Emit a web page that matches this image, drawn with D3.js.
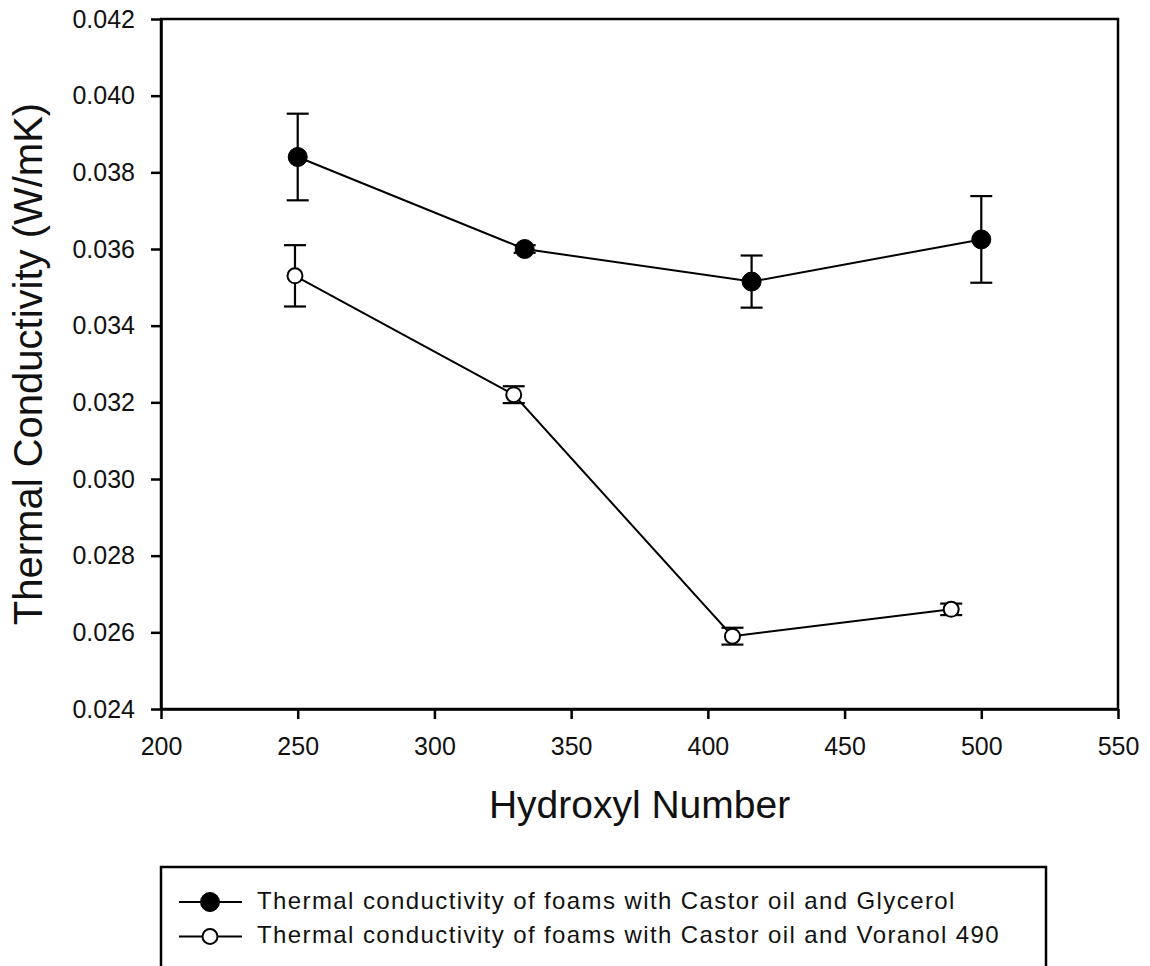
<!DOCTYPE html>
<html>
<head>
<meta charset="utf-8">
<script src="https://cdn.jsdelivr.net/npm/d3@7"></script>
<style>
  body { margin: 0; background: #fff; }
  svg { display: block; font-family: Arial, "Liberation Sans", sans-serif; }
</style>
</head>
<body>
<svg id="chart" width="1150" height="966"></svg>
<script>
// Hydroxyl number vs. thermal conductivity for two polyol blends
const glycerolX = [250, 333, 416, 500];
const glycerolY = [0.0384, 0.0360, 0.03515, 0.03625];
const glycerolErr = [0.00113, 0.0001, 0.00068, 0.00113];

const voranolX = [249, 329, 409, 489];
const voranolY = [0.0353, 0.0322, 0.0259, 0.0266];
const voranolErr = [0.0008, 0.00022, 0.00022, 0.00015];

const xTicks = [200, 250, 300, 350, 400, 450, 500, 550];
const yTicks = [0.024, 0.026, 0.028, 0.030, 0.032, 0.034, 0.036, 0.038, 0.040, 0.042];

const seriesNames = [
  "Thermal conductivity of foams with Castor oil and Glycerol",
  "Thermal conductivity of foams with Castor oil and Voranol 490"
];

const svg = d3.select("#chart");
const plotL = 161, plotR = 1118, plotT = 19, plotB = 709;

const x = d3.scaleLinear().domain([200, 550]).range([plotL, plotR]);
const y = d3.scaleLinear().domain([0.024, 0.042]).range([plotB, plotT]);

// frame
svg.append("rect")
  .attr("x", plotL).attr("y", plotT)
  .attr("width", plotR - plotL).attr("height", plotB - plotT)
  .attr("fill", "none").attr("stroke", "#000").attr("stroke-width", 2.5);

// axes
const xAxis = svg.append("g")
  .attr("transform", `translate(0,${plotB})`)
  .call(d3.axisBottom(x).tickValues(xTicks).tickSize(10).tickSizeOuter(0).tickPadding(18).tickFormat(d3.format("d")));
const yAxis = svg.append("g")
  .attr("transform", `translate(${plotL},0)`)
  .call(d3.axisLeft(y).tickValues(yTicks).tickSize(10).tickSizeOuter(0).tickPadding(16).tickFormat(d3.format(".3f")));

[xAxis, yAxis].forEach(g => {
  g.select(".domain").attr("stroke", "#000").attr("stroke-width", 2.5);
  g.selectAll(".tick line").attr("stroke", "#000").attr("stroke-width", 2.5);
  g.selectAll(".tick text").attr("fill", "#111").style("font-size", "25px")
    .style("font-family", "Arial, 'Liberation Sans', sans-serif");
});

// axis titles
svg.append("text")
  .attr("x", (plotL + plotR) / 2).attr("y", 818)
  .attr("text-anchor", "middle")
  .style("font-size", "39px").attr("fill", "#111")
  .text("Hydroxyl Number");

svg.append("text")
  .attr("transform", `translate(42,${(plotT + plotB) / 2}) rotate(-90)`)
  .attr("text-anchor", "middle")
  .style("font-size", "40px").attr("fill", "#111")
  .text("Thermal Conductivity (W/mK)");

const line = d3.line().x(d => x(d[0])).y(d => y(d[1]));

function drawSeries(xs, ys, errs, filled) {
  const pts = xs.map((v, i) => [v, ys[i], errs[i]]);
  const g = svg.append("g");
  g.append("path").datum(pts)
    .attr("d", line).attr("fill", "none")
    .attr("stroke", "#000").attr("stroke-width", 2);
  // error bars
  pts.forEach(p => {
    const cx = x(p[0]);
    const y1 = y(p[1] + p[2]), y2 = y(p[1] - p[2]);
    g.append("line").attr("x1", cx).attr("x2", cx).attr("y1", y1).attr("y2", y2)
      .attr("stroke", "#000").attr("stroke-width", 2.2);
    [y1, y2].forEach(yy => g.append("line")
      .attr("x1", cx - 11).attr("x2", cx + 11).attr("y1", yy).attr("y2", yy)
      .attr("stroke", "#000").attr("stroke-width", 2.2));
  });
  g.selectAll("circle").data(pts).join("circle")
    .attr("cx", d => x(d[0])).attr("cy", d => y(d[1]))
    .attr("r", filled ? 9.5 : 7.5)
    .attr("fill", filled ? "#000" : "#fff")
    .attr("stroke", "#000").attr("stroke-width", filled ? 1 : 2);
}

drawSeries(glycerolX, glycerolY, glycerolErr, true);
drawSeries(voranolX, voranolY, voranolErr, false);

// legend
const lg = svg.append("g");
lg.append("rect")
  .attr("x", 161).attr("y", 867).attr("width", 885).attr("height", 120)
  .attr("fill", "none").attr("stroke", "#000").attr("stroke-width", 2.5);

seriesNames.forEach((name, i) => {
  const cy = 902 + i * 34.5;
  lg.append("line").attr("x1", 179).attr("x2", 242).attr("y1", cy).attr("y2", cy)
    .attr("stroke", "#000").attr("stroke-width", 2.2);
  lg.append("circle").attr("cx", 210).attr("cy", cy)
    .attr("r", i === 0 ? 9.5 : 7.5)
    .attr("fill", i === 0 ? "#000" : "#fff")
    .attr("stroke", "#000").attr("stroke-width", i === 0 ? 1 : 2);
  lg.append("text").attr("x", 257).attr("y", cy + 6.5)
    .style("font-size", "24px").attr("fill", "#111")
    .style("letter-spacing", "1.4px")
    .text(name);
});
</script>
</body>
</html>
